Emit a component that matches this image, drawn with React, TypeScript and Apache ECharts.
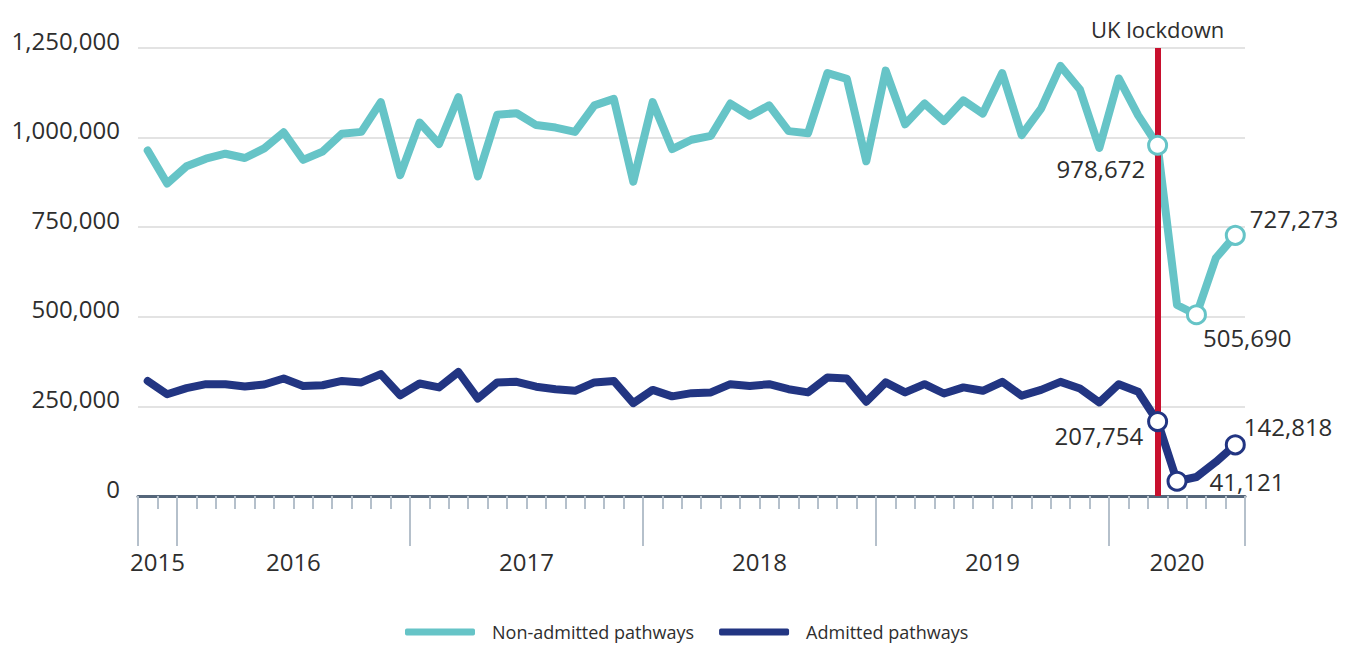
import React, { useEffect, useRef } from "react";
import * as echarts from "echarts";

const months = [
  "Nov 2015", "Dec 2015",
  "Jan 2016", "Feb 2016", "Mar 2016", "Apr 2016", "May 2016", "Jun 2016", "Jul 2016", "Aug 2016", "Sep 2016", "Oct 2016", "Nov 2016", "Dec 2016",
  "Jan 2017", "Feb 2017", "Mar 2017", "Apr 2017", "May 2017", "Jun 2017", "Jul 2017", "Aug 2017", "Sep 2017", "Oct 2017", "Nov 2017", "Dec 2017",
  "Jan 2018", "Feb 2018", "Mar 2018", "Apr 2018", "May 2018", "Jun 2018", "Jul 2018", "Aug 2018", "Sep 2018", "Oct 2018", "Nov 2018", "Dec 2018",
  "Jan 2019", "Feb 2019", "Mar 2019", "Apr 2019", "May 2019", "Jun 2019", "Jul 2019", "Aug 2019", "Sep 2019", "Oct 2019", "Nov 2019", "Dec 2019",
  "Jan 2020", "Feb 2020", "Mar 2020", "Apr 2020", "May 2020", "Jun 2020", "Jul 2020",
];

const years = ["2015", "2016", "2017", "2018", "2019", "2020"];

const nonAdmitted = [
  964000, 872000, 920000, 941000, 955000, 943000, 970000, 1015000, 938000, 961000,
  1011000, 1016000, 1099000, 895000, 1042000, 982000, 1113000, 892000, 1064000, 1068000,
  1035000, 1028000, 1016000, 1090000, 1108000, 877000, 1099000, 968000, 994000, 1005000,
  1095000, 1061000, 1090000, 1018000, 1012000, 1180000, 1164000, 934000, 1187000, 1037000,
  1095000, 1046000, 1104000, 1067000, 1180000, 1007000, 1081000, 1200000, 1134000, 971000,
  1165000, 1062000, 978672, 533000, 505690, 664000, 727273,
];

const admitted = [
  321000, 284000, 301000, 312000, 312000, 305500, 311000, 328000, 307000, 309000,
  321000, 317000, 340000, 281000, 314000, 303000, 346000, 272000, 317000, 318500,
  305000, 298000, 293500, 317000, 321000, 259000, 296000, 278000, 287000, 289000,
  312000, 307000, 312000, 298000, 289000, 330500, 328000, 263000, 317000, 289000,
  312000, 286000, 303000, 293500, 318500, 280000, 296000, 318500, 300000, 261000,
  312000, 291000, 207754, 41121, 53000, 95000, 142818,
];

const seriesNames = ["Non-admitted pathways", "Admitted pathways"];
const lockdownMonth = "Mar 2020";
const lockdownLabel = "UK lockdown";
const nonAdmittedMarked = ["Mar 2020", "May 2020", "Jul 2020"];
const admittedMarked = ["Mar 2020", "Apr 2020", "Jul 2020"];

const TEAL = "#66c4c7";
const NAVY = "#223582";
const RED = "#c8102e";
const TEXT = "#2e2e2e";
const FONT = "'Open Sans', sans-serif";

const fmt = (v: number) => Math.round(v).toLocaleString("en-US");

export default function App() {
  const ref = useRef<HTMLDivElement>(null);

  useEffect(() => {
    if (!ref.current) return;
    const chart = echarts.init(ref.current, undefined, { renderer: "svg" });

    const yearStarts = years.map((y) => months.findIndex((m) => m.endsWith(y)));
    const boundaries = [...yearStarts, months.length];
    const yearMids = years.map((_, i) => (boundaries[i] + boundaries[i + 1]) / 2);
    const lockIdx = months.indexOf(lockdownMonth);

    const pts = (arr: number[]) => arr.map((v, i) => [i + 0.5, v]);

    const labelPlacement: Record<string, any> = {
      "n:Mar 2020": { position: [-2, 34], align: "right" },
      "n:May 2020": { position: [17, 33], align: "left" },
      "n:Jul 2020": { position: [25, -6], align: "left" },
      "a:Mar 2020": { position: [-4, 24], align: "right" },
      "a:Apr 2020": { position: [43, 11], align: "left" },
      "a:Jul 2020": { position: [19, -8], align: "left" },
    };

    const marked = (arr: number[], list: string[], key: string) =>
      list.map((m) => {
        const i = months.indexOf(m);
        const pl = labelPlacement[key + ":" + m];
        return {
          value: [i + 0.5, arr[i]],
          label: {
            show: true,
            formatter: (p: any) => fmt(p.value[1]),
            fontSize: 24,
            color: TEXT,
            fontFamily: FONT,
            verticalAlign: "middle",
            position: pl.position,
            align: pl.align,
          },
        };
      });

    chart.setOption({
      animation: false,
      backgroundColor: "#ffffff",
      textStyle: { fontFamily: FONT },
      grid: { left: 138, right: 115, top: 48, bottom: 150, containLabel: false },
      legend: {
        data: seriesNames,
        top: 618,
        left: 400,
        icon: "roundRect",
        itemWidth: 70,
        itemHeight: 7,
        itemGap: 25,
        textStyle: {
          fontSize: 18,
          lineHeight: 18,
          color: TEXT,
          fontFamily: FONT,
          padding: [0, 0, 0, 12],
        },
      },
      xAxis: [
        {
          type: "value",
          min: 0,
          max: months.length,
          interval: 1,
          position: "bottom",
          axisLine: { show: true, onZero: false, lineStyle: { color: "#55667a", width: 3 } },
          axisTick: { show: true, length: 13, lineStyle: { color: "#b5c0cb", width: 2 } },
          axisLabel: { show: false },
          splitLine: { show: false },
        },
        {
          type: "value",
          min: 0,
          max: months.length,
          position: "bottom",
          axisLine: { show: false, onZero: false },
          axisTick: {
            show: true,
            customValues: boundaries,
            length: 50,
            lineStyle: { color: "#b5c0cb", width: 2 },
          },
          axisLabel: {
            show: true,
            customValues: yearMids,
            formatter: (v: number) => {
              const k = yearMids.findIndex((m) => Math.abs(m - v) < 1e-6);
              return k >= 0 ? years[k] : "";
            },
            margin: 53,
            fontSize: 24,
            color: TEXT,
            fontFamily: FONT,
          },
          splitLine: { show: false },
        },
      ],
      yAxis: {
        type: "value",
        min: 0,
        max: 1250000,
        interval: 250000,
        axisLine: { show: false },
        axisTick: { show: false },
        splitLine: { show: true, lineStyle: { color: "#e3e3e3", width: 2 } },
        axisLabel: {
          formatter: (v: number) => fmt(v),
          fontSize: 24,
          color: TEXT,
          fontFamily: FONT,
          margin: 18,
          verticalAlign: "bottom",
          lineHeight: 16,
        },
      },
      series: [
        {
          name: seriesNames[0],
          type: "line",
          xAxisIndex: 0,
          data: pts(nonAdmitted),
          symbol: "none",
          z: 2,
          itemStyle: { color: TEAL },
          lineStyle: { color: TEAL, width: 8, cap: "round", join: "round" },
          markLine: {
            silent: true,
            symbol: ["none", "none"],
            lineStyle: { color: RED, width: 6, type: "solid" },
            label: {
              show: true,
              position: "end",
              formatter: lockdownLabel,
              fontSize: 22,
              color: TEXT,
              fontFamily: FONT,
              distance: 8,
            },
            data: [{ xAxis: lockIdx + 0.5 }],
          },
        },
        {
          name: seriesNames[1],
          type: "line",
          xAxisIndex: 0,
          data: pts(admitted),
          symbol: "none",
          z: 3,
          itemStyle: { color: NAVY },
          lineStyle: { color: NAVY, width: 8, cap: "round", join: "round" },
        },
        {
          name: "nonMarked",
          type: "scatter",
          xAxisIndex: 0,
          z: 5,
          symbol: "circle",
          symbolSize: 18,
          itemStyle: { color: "#ffffff", borderColor: TEAL, borderWidth: 3, opacity: 1 },
          data: marked(nonAdmitted, nonAdmittedMarked, "n"),
        },
        {
          name: "admMarked",
          type: "scatter",
          xAxisIndex: 0,
          z: 5,
          symbol: "circle",
          symbolSize: 18,
          itemStyle: { color: "#ffffff", borderColor: NAVY, borderWidth: 3, opacity: 1 },
          data: marked(admitted, admittedMarked, "a"),
        },
      ],
    });

    return () => chart.dispose();
  }, []);

  return (
    <div
      ref={ref}
      style={{ position: "fixed", left: 0, top: 0, width: 1360, height: 646, background: "#fff" }}
    />
  );
}
